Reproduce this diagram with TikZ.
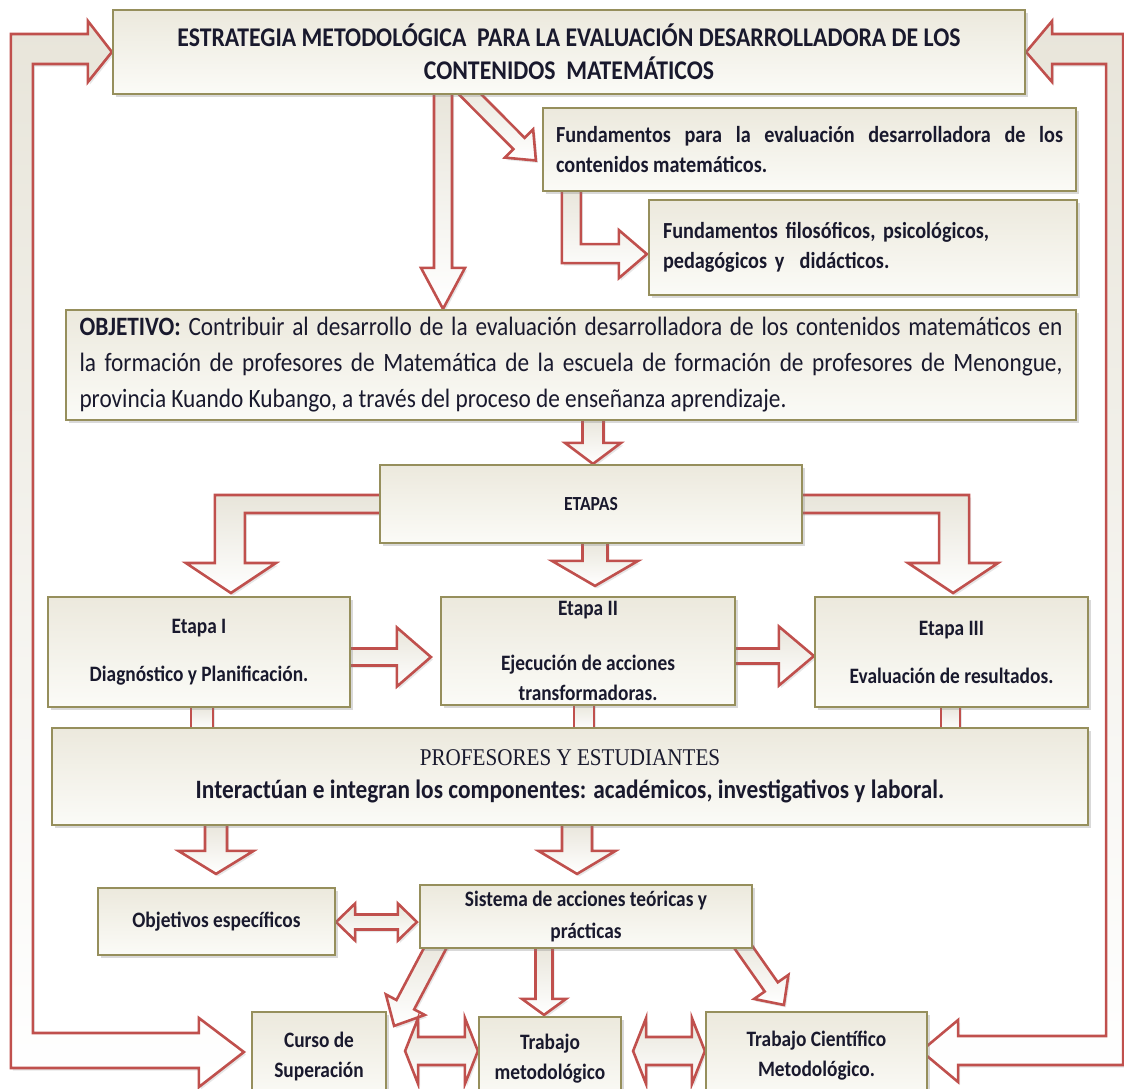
\documentclass[tikz,border=0pt]{standalone}
\usepackage{fontspec}
\setmainfont{Carlito}[FakeStretch=0.88]
\newfontfamily\timesf{Liberation Serif}[FakeStretch=0.88]
\usetikzlibrary{calc,shadows}
\definecolor{boxline}{RGB}{150,143,92}
\definecolor{boxtop}{RGB}{236,233,221}
\definecolor{boxbot}{RGB}{251,251,247}
\definecolor{arrline}{RGB}{192,80,77}
\definecolor{arrtop}{RGB}{232,229,218}
\definecolor{txt}{RGB}{25,25,45}
\pgfdeclarelayer{bg}
\pgfsetlayers{bg,main}
% straight block arrow: start, tip, shaft half width, head half width, head length
\newcommand{\barrow}[5]{%
  \coordinate (ba) at (#1); \coordinate (bb) at (#2);
  \coordinate (bh) at ($(bb)!#5!(ba)$);
  \draw[arrowst] ($(ba)!#3!90:(bb)$) -- ($(bh)!#3!90:(bb)$) -- ($(bh)!#4!90:(bb)$) -- (bb)
    -- ($(bh)!#4!-90:(bb)$) -- ($(bh)!#3!-90:(bb)$) -- ($(ba)!#3!-90:(bb)$) -- cycle;}
% double block arrow: tip a, tip b, shaft half width, head half width, head length
\newcommand{\dbarrow}[5]{%
  \coordinate (da) at (#1); \coordinate (db) at (#2);
  \coordinate (dha) at ($(da)!#5!(db)$); \coordinate (dhb) at ($(db)!#5!(da)$);
  \draw[arrowst] (da) -- ($(dha)!#4!90:(db)$) -- ($(dha)!#3!90:(db)$) -- ($(dhb)!#3!90:(db)$)
    -- ($(dhb)!#4!90:(db)$) -- (db) -- ($(dhb)!#4!-90:(db)$) -- ($(dhb)!#3!-90:(db)$)
    -- ($(dha)!#3!-90:(db)$) -- ($(dha)!#4!-90:(db)$) -- cycle;}
\begin{document}
\begin{tikzpicture}[x=1pt,y=-1pt,
  box/.style={draw=boxline, line width=2.2pt, top color=boxtop, bottom color=boxbot,
    inner sep=0pt, text=txt,
    drop shadow={shadow xshift=2.5pt, shadow yshift=-3pt, opacity=0.3}},
  arrowst/.style={draw=arrline, line width=2.6pt, top color=arrtop, bottom color=white,
    drop shadow={shadow xshift=2pt, shadow yshift=-2.5pt, opacity=0.2}},
  bodyb/.style={font=\fontsize{22}{30}\selectfont\bfseries}]
\useasboundingbox (0,0) rectangle (1124,1088);

% ---------- boxes ----------
\node[box, minimum width=912pt, minimum height=84pt, align=center,
  font=\fontsize{27}{33}\selectfont\bfseries] (title) at (569,52)
  {ESTRATEGIA METODOLÓGICA\ \ PARA LA EVALUACIÓN DESARROLLADORA DE LOS\\CONTENIDOS\ \ MATEMÁTICOS};
\node[box, minimum width=533pt, minimum height=83pt, text width=507pt, align=justify,
  font=\fontsize{23}{30}\selectfont\bfseries] (fund) at (809.5,149.5)
  {Fundamentos para la evaluación desarrolladora de los\linebreak contenidos matemáticos.};
\node[box, minimum width=428pt, minimum height=95pt, text width=400pt, align=left,
  font=\fontsize{23}{30}\selectfont\bfseries] (filo) at (863,247.5)
  {Fundamentos filosóficos, psicológicos,\\pedagógicos y\ \ didácticos.};
\node[box, minimum width=1010pt, minimum height=110pt, text width=983pt, align=justify,
  font=\fontsize{26.5}{36}\selectfont] (obj) at (571,365)
  {\textbf{OBJETIVO:} Contribuir al desarrollo de la evaluación desarrolladora de los contenidos matemáticos en\linebreak la formación de profesores de Matemática de la escuela de formación de profesores de Menongue,\linebreak provincia Kuando Kubango, a través del proceso de enseñanza aprendizaje.};
\node[box, minimum width=422pt, minimum height=78pt,
  font=\fontsize{20}{24}\selectfont\bfseries] (etapas) at (591,504) {ETAPAS};
\node[box, bodyb, minimum width=302pt, minimum height=110pt, align=center] (e1) at (199,652)
  {Etapa I\\[18pt]Diagnóstico y Planificación.};
\node[box, bodyb, minimum width=294pt, minimum height=108pt, align=center] (e2) at (588,651)
  {Etapa II\\[25pt]Ejecución de acciones\\transformadoras.};
\node[box, bodyb, minimum width=273pt, minimum height=110pt, align=center] (e3) at (951.5,652)
  {Etapa III\\[18pt]Evaluación de resultados.};
\node[box, minimum width=1036pt, minimum height=97pt, align=center,
  font=\fontsize{24}{33}\selectfont] (prof) at (570,776.5)
  {{\timesf PROFESORES Y ESTUDIANTES}\\{\fontsize{26.5}{33}\selectfont\bfseries Interactúan e integran los componentes: académicos, investigativos y laboral.}};
\node[box, bodyb, minimum width=237pt, minimum height=67pt] (objesp) at (216.5,921.5)
  {Objetivos específicos};
\node[box, minimum width=332pt, minimum height=63pt, align=center,
  font=\fontsize{22}{32}\selectfont\bfseries] (sist) at (586,916.5)
  {Sistema de acciones teóricas y\\prácticas};
\node[box, bodyb, minimum width=134pt, minimum height=88pt, align=center] (curso) at (319,1056)
  {Curso de\\Superación};
\node[box, bodyb, minimum width=142pt, minimum height=83pt, align=center] (tmet) at (550,1058.5)
  {Trabajo\\metodológico};
\node[box, bodyb, minimum width=221pt, minimum height=88pt, align=center] (tcm) at (816.5,1056)
  {Trabajo Científico\\Metodológico.};

% ---------- helper lines for connector positions ----------
\coordinate (vObj) at (443,0);
\coordinate (vEt) at (593,0);
\coordinate (vE2) at (595,0);
\coordinate (hE12) at (0,657);
\coordinate (hE23) at (0,656);
\coordinate (vP1) at (216,0);
\coordinate (vP2) at (577,0);
\coordinate (hOS) at (0,922);
\coordinate (vST) at (544,0);
\coordinate (hB) at (0,1051);
\coordinate (hB2) at (0,1051);
\coordinate (xb1) at (202,0);
\coordinate (xb2) at (584,0);
\coordinate (xb3) at (950.5,0);

% ---------- connectors ----------
\begin{pgfonlayer}{bg}
% feedback loops
\draw[arrowst] (title.west) -- ++(-24,30) -- ++(0,-18) -- ++(-55,0) -- ++(0,969) -- ++(166,0)
  -- ++(0,-15) -- ($(curso.west)+(-7,-4)$) -- ++(-45,35) -- ++(0,-19) -- ++(-188,0)
  -- ++(0,-1034) -- ++(77,0) -- ++(0,-13) -- cycle;
\draw[arrowst] (title.east) -- ++(26,-31) -- ++(0,13) -- ++(71,0) -- ++(0,1031) -- ++(-165,0)
  -- ++(0,17) -- ($(tcm.east)+(-7,-5)$) -- ++(37,-31) -- ++(0,16) -- ++(148,0)
  -- ++(0,-972) -- ++(-54,0) -- ++(0,18) -- cycle;
% title -> fundamentos
\barrow{$(title.south west)+(349,-10)$}{$(fund.west)+(-6,11)$}{8pt}{20pt}{24pt}
% fundamentos -> filosoficos (elbow)
\draw[arrowst] ($(fund.south west)+(20,-6)$) -- ++(0,77) -- ++(57,0) -- ++(0,15) -- ++(28,-24)
  -- ++(-28,-24) -- ++(0,14) -- ++(-38,0) -- ++(0,-58) -- cycle;
% title -> objetivo
\barrow{$(vObj |- title.south)+(0,-4)$}{vObj |- obj.north}{9pt}{22pt}{41pt}
% objetivo -> etapas
\barrow{$(vEt |- obj.south)+(0,-4)$}{vEt |- etapas.north}{10.5pt}{28pt}{21pt}
% etapas -> etapa I (elbow)
\draw[arrowst] ($(etapas.west)+(5,-9)$) -- ++(-169,0) -- ++(0,68) -- ++(-29,0) -- ++(45,30)
  -- ++(45,-30) -- ++(-31,0) -- ++(0,-50) -- ++(139,0) -- cycle;
% etapas -> etapa II
\barrow{$(vE2 |- etapas.south)+(0,-4)$}{$(vE2 |- e2.north)+(0,-10)$}{12.5pt}{43pt}{25pt}
% etapas -> etapa III (elbow)
\draw[arrowst] ($(etapas.east)+(-5,-9)$) -- ++(171,0) -- ++(0,68) -- ++(29,0) -- ++(-45,30)
  -- ++(-45,-30) -- ++(31,0) -- ++(0,-50) -- ++(-141,0) -- cycle;
% etapa I -> II -> III
\barrow{$(e1.east |- hE12)+(-4,0)$}{$(e2.west |- hE12)+(-9,0)$}{8.5pt}{29.5pt}{34pt}
\barrow{$(e2.east |- hE23)+(-4,0)$}{e3.west |- hE23}{7.5pt}{29.5pt}{35pt}
% etapas -> profesores bars
\draw[arrowst] ($(xb1 |- e1.south)+(-11,-3)$) rectangle ($(xb1 |- prof.north)+(11,3)$);
\draw[arrowst] ($(xb2 |- e2.south)+(-10,-3)$) rectangle ($(xb2 |- prof.north)+(10,3)$);
\draw[arrowst] ($(xb3 |- e3.south)+(-9.5,-3)$) rectangle ($(xb3 |- prof.north)+(9.5,3)$);
% profesores -> objetivos / sistema
\barrow{$(vP1 |- prof.south)+(0,-4)$}{$(vP1 |- objesp.north)+(0,-13)$}{11pt}{37.5pt}{23pt}
\barrow{$(vP2 |- prof.south)+(0,-4)$}{$(vP2 |- sist.north)+(0,-10)$}{15pt}{38.5pt}{23pt}
% objetivos <-> sistema
\dbarrow{objesp.east |- hOS}{$(sist.west |- hOS)+(-2,0)$}{7.5pt}{18.5pt}{19pt}
% sistema -> bottom boxes
\barrow{$(vST |- sist.south)+(0,-4)$}{$(vST |- tmet.north)+(0,-1)$}{8.5pt}{22pt}{16pt}
\barrow{$(sist.south west)+(20,-8)$}{$(curso.north east)+(7,15)$}{10pt}{22pt}{24pt}
\barrow{$(sist.south east)+(-14,-8)$}{$(tcm.north west)+(79,-6)$}{8pt}{21pt}{22pt}
% bottom double arrows
\dbarrow{$(curso.east |- hB)+(18,0)$}{tmet.west |- hB}{14pt}{33pt}{13pt}
\dbarrow{$(tmet.east |- hB2)+(11,0)$}{tcm.west |- hB2}{14pt}{33pt}{13pt}
\end{pgfonlayer}
\end{tikzpicture}
\end{document}
